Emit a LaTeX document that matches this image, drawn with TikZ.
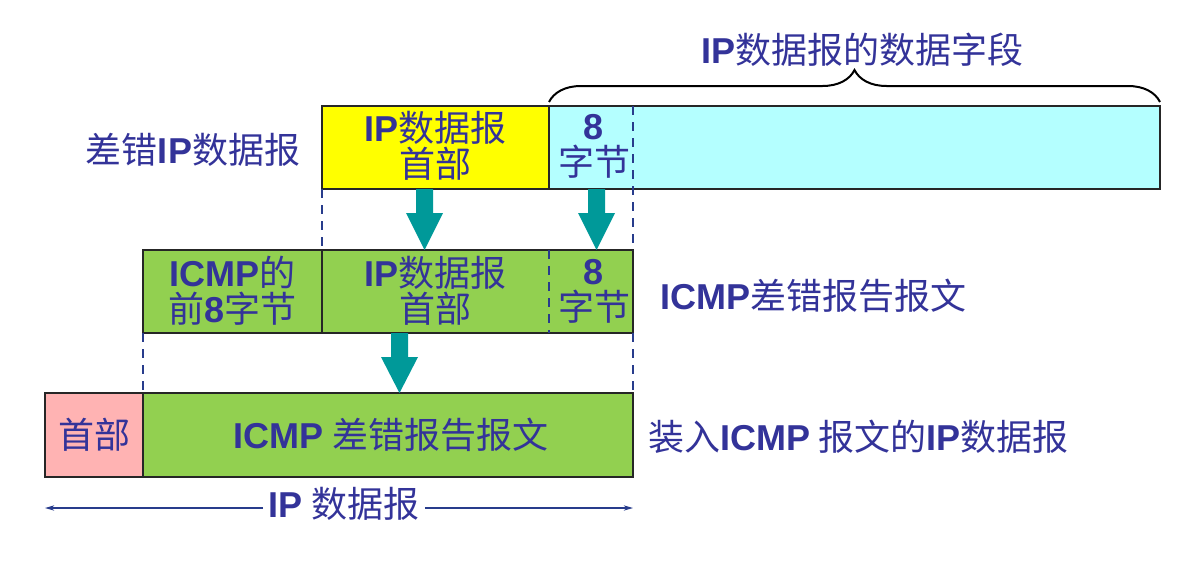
\documentclass[tikz,border=0pt]{standalone}
\usepackage{fontspec}
\setmainfont{Noto Sans CJK SC}
\newfontfamily\arialfont{Liberation Sans}
\newcommand{\en}[1]{{\arialfont\bfseries #1}}
\usetikzlibrary{decorations.pathreplacing,arrows.meta}
\definecolor{txtblue}{RGB}{51,51,153}
\definecolor{hdryellow}{RGB}{255,255,0}
\definecolor{datacyan}{RGB}{180,255,255}
\definecolor{icmpgreen}{RGB}{146,208,80}
\definecolor{hdrpink}{RGB}{255,179,179}
\definecolor{arrowteal}{RGB}{0,153,153}
\definecolor{dashblue}{RGB}{40,60,140}

\tikzset{every picture/.style={line width=0.75pt}}
\tikzset{
  lbl/.style={text=txtblue, font=\fontsize{27}{27}\selectfont, align=center, inner sep=0pt},
  boxline/.style={draw=black!85, line width=1.5pt},
  guide/.style={draw=dashblue, line width=1.5pt, dash pattern=on 7pt off 5pt},
  blockarrow/.style={fill=arrowteal, draw=none}
}

\begin{document}
\begin{tikzpicture}[x=0.75pt,y=0.75pt,yscale=-1,xscale=1]
\useasboundingbox (0,0) rectangle (1187,567);

%Top row: IP datagram in error
\fill[hdryellow] (322,106) rectangle (549,189);
\fill[datacyan] (549,106) rectangle (1160,189);
\draw[boxline] (322,106) rectangle (549,189);
\draw[boxline] (549,106) rectangle (1160,189);

%Brace over data field
\draw[line width=1.5pt, decorate, decoration={brace, amplitude=24pt}] (549,102) -- (1160,102);

%Middle row: ICMP error message
\fill[icmpgreen] (143,250) rectangle (633,333);
\draw[boxline] (143,250) rectangle (633,333);
\draw[boxline] (322,250) -- (322,333);
\draw[guide] (549,250) -- (549,333);

%Bottom row: IP datagram carrying ICMP
\fill[hdrpink] (45,393) rectangle (143,477);
\fill[icmpgreen] (143,393) rectangle (633,477);
\draw[boxline] (45,393) rectangle (143,477);
\draw[boxline] (143,393) rectangle (633,477);

%Dashed guides
\draw[guide] (322,189) -- (322,250);
\draw[guide] (633,106) -- (633,250);
\draw[guide] (143,333) -- (143,393);
\draw[guide] (633,333) -- (633,393);

%Block arrows
\fill[blockarrow] (416,189) -- (433,189) -- (433,213) -- (443,213) -- (424.5,250) -- (406,213) -- (416,213) -- cycle;
\fill[blockarrow] (588,189) -- (605,189) -- (605,213) -- (615,213) -- (596.5,250) -- (578,213) -- (588,213) -- cycle;
\fill[blockarrow] (391,333) -- (408,333) -- (408,357) -- (418,357) -- (399.5,393) -- (381,357) -- (391,357) -- cycle;

% Text Nodes
\node[lbl] (datafield) at (862,50) {\en{IP}数据报的数据字段};
\node[lbl] (errdg) at (193,150) {差错\en{IP}数据报};
\node[lbl] (hdrtop) at (435.5,146) {\en{IP}数据报\\首部};
\node[lbl] (eighttop) at (594,146) {\en{8}\\字节};
\node[lbl] (icmpfirst) at (232.5,291) {\en{ICMP}的\\前\en{8}字节};
\node[lbl] (hdrmid) at (435.5,291) {\en{IP}数据报\\首部};
\node[lbl] (eightmid) at (594,291) {\en{8}\\字节};
\node[lbl, anchor=west] (icmpmsg) at (660,296) {\en{ICMP}差错报告报文};
\node[lbl] (iphdr) at (94,435) {首部};
\node[lbl] (icmpbody) at (391,435) {\en{ICMP} 差错报告报文};
\node[lbl, anchor=west] (carrier) at (648,437) {装入\en{ICMP} 报文的\en{IP}数据报};
\node[lbl, inner xsep=4pt] (ipdg) at (344,504) {\en{IP} 数据报};

%Span arrow
\coordinate (spanl) at (45,508);
\coordinate (spanr) at (633,508);
\draw[dashblue, line width=1pt, -{Stealth[length=7pt,width=4pt]}] (ipdg.west |- spanl) -- (spanl);
\draw[dashblue, line width=1pt, -{Stealth[length=7pt,width=4pt]}] (ipdg.east |- spanr) -- (spanr);

\end{tikzpicture}
\end{document}
